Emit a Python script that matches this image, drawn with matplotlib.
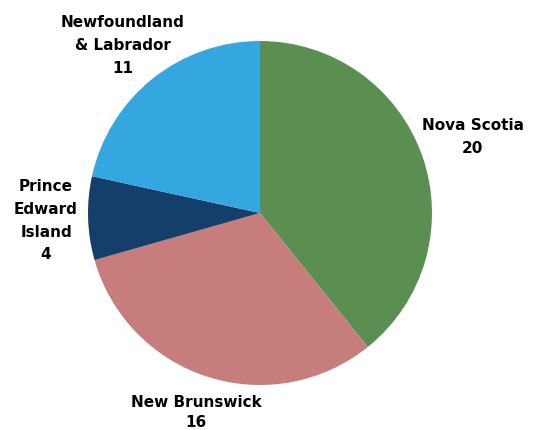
import matplotlib.pyplot as plt

provinces = ["Nova Scotia", "New Brunswick", "Prince\nEdward\nIsland", "Newfoundland\n& Labrador"]
counts = [20, 16, 4, 11]
colors = ["#5b8f51", "#c77d7b", "#143f6b", "#35a7e0"]

# label centres in axes data units (pie radius = 1)
label_pos = [(1.238, 0.44), (-0.372, -1.158), (-1.244, -0.045), (-0.797, 0.975)]

fig = plt.figure(figsize=(5.4, 4.3), dpi=100)
cx, cy, r = 260, 213, 172
ax = fig.add_axes([(cx - r) / 540, (430 - cy - r) / 430, 2 * r / 540, 2 * r / 430])

ax.pie(counts, colors=colors, startangle=90, counterclock=False, radius=1,
       wedgeprops=dict(linewidth=0))

for name, n, (x, y) in zip(provinces, counts, label_pos):
    spacing = 1.4 if name == "New Brunswick" else 1.65
    ax.text(x, y, "{}\n{}".format(name, n), ha="center", va="center",
            fontsize=11, fontweight="bold", family="DejaVu Sans",
            linespacing=spacing, color="#000000")

ax.set_xlim(-1, 1)
ax.set_ylim(-1, 1)
ax.set_aspect("equal")
ax.axis("off")

fig.savefig("out.png", dpi=100)
